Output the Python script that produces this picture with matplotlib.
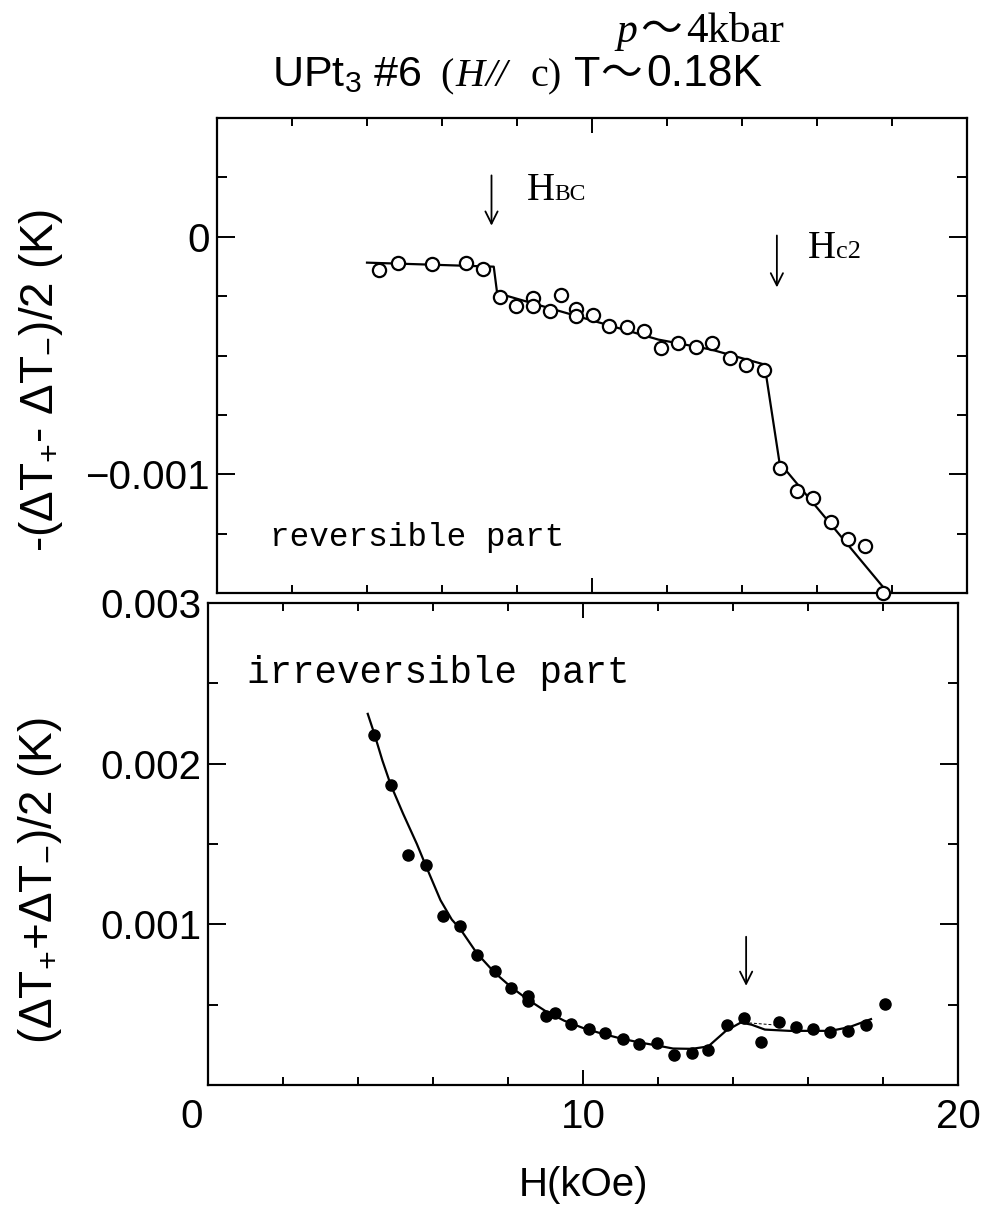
import matplotlib
matplotlib.use("Agg")
import matplotlib.pyplot as plt
from matplotlib.ticker import FixedLocator, MultipleLocator
from matplotlib.transforms import ScaledTranslation

plt.rcParams['font.family'] = ['Liberation Sans', 'DejaVu Sans']
plt.rcParams['mathtext.fontset'] = 'custom'
plt.rcParams['mathtext.rm'] = 'Liberation Sans'
plt.rcParams['mathtext.it'] = 'Liberation Sans:italic'
plt.rcParams['mathtext.bf'] = 'Liberation Sans:bold'

# ---------------- data ----------------
# reversible part (open circles), H in kOe, value in K
rev_H = [4.33, 4.82, 5.72, 6.65, 7.09, 7.54, 7.96, 8.42, 8.42, 8.87, 9.16, 9.57, 9.57,
         10.02, 10.46, 10.92, 11.39, 11.84, 12.30, 12.76, 13.21, 13.67, 14.11, 14.58,
         15.01, 15.46, 15.90, 16.37, 16.83, 17.27, 17.76]
rev_V = [-0.139e-3, -0.110e-3, -0.115e-3, -0.110e-3, -0.134e-3, -0.255e-3, -0.293e-3,
         -0.258e-3, -0.293e-3, -0.311e-3, -0.244e-3, -0.303e-3, -0.332e-3, -0.331e-3,
         -0.374e-3, -0.381e-3, -0.395e-3, -0.470e-3, -0.447e-3, -0.464e-3, -0.447e-3,
         -0.510e-3, -0.542e-3, -0.562e-3, -0.975e-3, -1.070e-3, -1.102e-3, -1.203e-3,
         -1.273e-3, -1.304e-3, -1.500e-3]
# guide line through reversible part
rev_line_H = [4.0, 7.38, 7.47, 11.77, 13.18, 14.60, 15.00, 18.0]
rev_line_V = [-0.109e-3, -0.126e-3, -0.237e-3, -0.433e-3, -0.475e-3, -0.538e-3,
              -0.951e-3, -1.52e-3]

# irreversible part (filled circles)
irr_H = [4.43, 4.87, 5.33, 5.80, 6.27, 6.73, 7.17, 7.64, 8.08, 8.54, 8.54, 9.00, 9.25,
         9.69, 10.15, 10.59, 11.06, 11.50, 11.97, 12.43, 12.90, 13.34, 13.84, 14.28,
         14.75, 15.22, 15.69, 16.13, 16.59, 17.07, 17.54, 18.04]
irr_V = [2.18e-3, 1.865e-3, 1.43e-3, 1.37e-3, 1.054e-3, 0.99e-3, 0.81e-3, 0.707e-3,
         0.603e-3, 0.555e-3, 0.524e-3, 0.43e-3, 0.451e-3, 0.379e-3, 0.347e-3, 0.322e-3,
         0.289e-3, 0.258e-3, 0.26e-3, 0.187e-3, 0.20e-3, 0.218e-3, 0.372e-3, 0.42e-3,
         0.268e-3, 0.395e-3, 0.364e-3, 0.347e-3, 0.33e-3, 0.337e-3, 0.374e-3, 0.507e-3]
# smooth guide curve through irreversible part
irr_line_H = [4.26, 4.43, 4.65, 4.87, 5.20, 5.57, 5.80, 6.20, 6.50, 6.73, 7.17, 7.64,
              8.08, 8.54, 9.00, 9.50, 10.0, 10.5, 11.0, 11.5, 12.0, 12.4, 12.9, 13.34,
              13.81, 14.21, 14.50, 14.85, 15.5, 16.0, 16.6, 17.1, 17.68]
irr_line_V = [2.31e-3, 2.19e-3, 2.02e-3, 1.87e-3, 1.69e-3, 1.50e-3, 1.37e-3, 1.15e-3,
              1.03e-3, 0.97e-3, 0.82e-3, 0.70e-3, 0.61e-3, 0.53e-3, 0.46e-3, 0.40e-3,
              0.355e-3, 0.32e-3, 0.29e-3, 0.265e-3, 0.245e-3, 0.227e-3, 0.225e-3,
              0.240e-3, 0.337e-3, 0.389e-3, 0.375e-3, 0.345e-3, 0.337e-3, 0.337e-3,
              0.337e-3, 0.36e-3, 0.41e-3]
irr_dash_H = [14.3, 15.2]
irr_dash_V = [0.389e-3, 0.372e-3]

top_yticks = [-0.001, 0.0]
top_yticklabels = ['\u22120.001', '0']
bot_yticks = [0.001, 0.002, 0.003]
bot_yticklabels = ['0.001', '0.002', '0.003']
xticks = [0, 10, 20]
xticklabels = ['0', '10', '20']

# ---------------- figure ----------------
W, Hpx = 986, 1209
fig = plt.figure(figsize=(W / 100, Hpx / 100), dpi=100)

def fr(l, t, r, b):
    return [l / W, 1 - b / Hpx, (r - l) / W, (b - t) / Hpx]

ax1 = fig.add_axes(fr(217, 118, 967, 593))
ax2 = fig.add_axes(fr(208, 603, 958, 1085))

TICKFS = 29
for ax in (ax1, ax2):
    for s in ax.spines.values():
        s.set_linewidth(1.6)
    ax.set_xlim(0, 20)
    ax.xaxis.set_major_locator(FixedLocator(xticks))
    ax.xaxis.set_minor_locator(MultipleLocator(2))
    ax.tick_params(which='both', direction='in', top=True, right=True, width=1.4)
    ax.tick_params(which='major', length=11)
    ax.tick_params(which='minor', length=6)
    ax.tick_params(axis='y', which='major', length=13, pad=5, labelsize=TICKFS)
    ax.tick_params(axis='y', which='minor', length=7)

# top panel
ax1.set_ylim(-0.0015, 0.0005)
ax1.yaxis.set_major_locator(FixedLocator(top_yticks))
ax1.set_yticklabels(top_yticklabels)
ax1.yaxis.set_minor_locator(MultipleLocator(0.00025))
ax1.tick_params(axis='x', labelbottom=False)
ax1.plot(rev_line_H, rev_line_V, color='black', lw=1.6, zorder=2)
ax1.plot(rev_H, rev_V, 'o', ms=9.5, mfc='white', mec='black', mew=1.6, zorder=3,
         clip_on=False)
ax1.set_ylabel('-($\\Delta$T$_{+}$- $\\Delta$T$_{-}$)/2 (K)', fontsize=33)
ax1.yaxis.set_label_coords(-0.203, 0.448)

# annotations top
ax1.annotate('', xy=(7.32, 0.035e-3), xytext=(7.32, 0.27e-3),
             arrowprops=dict(arrowstyle='->', lw=1.3, color='black',
                             mutation_scale=22))
ax1.text(8.26, 0.155e-3, 'H', fontsize=28, family='Liberation Serif', va='baseline')
ax1.text(9.0, 0.155e-3, 'BC', fontsize=17, family='Liberation Serif', va='baseline')
ax1.annotate('', xy=(14.93, -0.225e-3), xytext=(14.93, 0.017e-3),
             arrowprops=dict(arrowstyle='->', lw=1.3, color='black',
                             mutation_scale=22))
ax1.text(15.75, -0.09e-3, 'H', fontsize=28, family='Liberation Serif', va='baseline')
ax1.text(16.5, -0.09e-3, 'c2', fontsize=19, family='Liberation Serif', va='baseline')
ax1.text(1.41, -1.303e-3, 'reversible part', fontsize=23.5, family='Liberation Mono',
         va='baseline')

# bottom panel
ax2.set_ylim(0, 0.003)
ax2.yaxis.set_major_locator(FixedLocator(bot_yticks))
ax2.set_yticklabels(bot_yticklabels)
ax2.yaxis.set_minor_locator(MultipleLocator(0.0005))
ax2.set_xticklabels(xticklabels)
ax2.tick_params(axis='x', which='major', labelsize=TICKFS, pad=9)
ax2.plot(irr_line_H, irr_line_V, color='black', lw=1.6, zorder=2)
ax2.plot(irr_dash_H, irr_dash_V, color='black', lw=0.7, ls=(0, (3, 2)), zorder=2)
ax2.plot(irr_H, irr_V, 'o', ms=8, mfc='black', mec='black', zorder=3)
ax2.set_ylabel('($\\Delta$T$_{+}$+$\\Delta$T$_{-}$)/2 (K)', fontsize=33)
ax2.yaxis.set_label_coords(-0.192, 0.425)
ax2.set_xlabel('H(kOe)', fontsize=29, labelpad=22)
ax2.annotate('', xy=(14.35, 0.60e-3), xytext=(14.35, 0.94e-3),
             arrowprops=dict(arrowstyle='->', lw=1.3, color='black',
                             mutation_scale=22))
ax2.text(1.05, 2.50e-3, 'irreversible part', fontsize=27, family='Liberation Mono',
         va='baseline')

# shift the "0" x tick label a little to the left, as in the original
t0 = ax2.xaxis.get_major_ticks()[0]
t0.label1.set_transform(t0.label1.get_transform() +
                        ScaledTranslation(-0.16, 0, fig.dpi_scale_trans))

# title pieces (figure pixel positions)
def ftext(x, y, s, **kw):
    fig.text(x / W, 1 - y / Hpx, s, va='baseline', **kw)

ftext(272, 86, 'UPt$_3$ #6', fontsize=31)
ftext(440, 86, '(', fontsize=29, family='Liberation Serif')
ftext(455, 86, 'H', fontsize=29, family='Liberation Serif', style='italic')
ftext(486, 86, '//', fontsize=29, family='Liberation Serif', style='italic')
ftext(530, 86, 'c)', fontsize=29, family='Liberation Serif')
ftext(574, 86, 'T', fontsize=31)
ftext(600, 86, '\u301c', fontsize=30, family=['Noto Sans CJK JP', 'DejaVu Sans'])
ftext(646, 86, '0.18K', fontsize=32)
ftext(616, 42, 'p', fontsize=30, family='Liberation Serif', style='italic')
ftext(640, 42, '\u301c', fontsize=30, family=['Noto Sans CJK JP', 'DejaVu Sans'])
ftext(686, 42, '4kbar', fontsize=31, family='Liberation Serif')

fig.savefig('out.png', dpi=100)
